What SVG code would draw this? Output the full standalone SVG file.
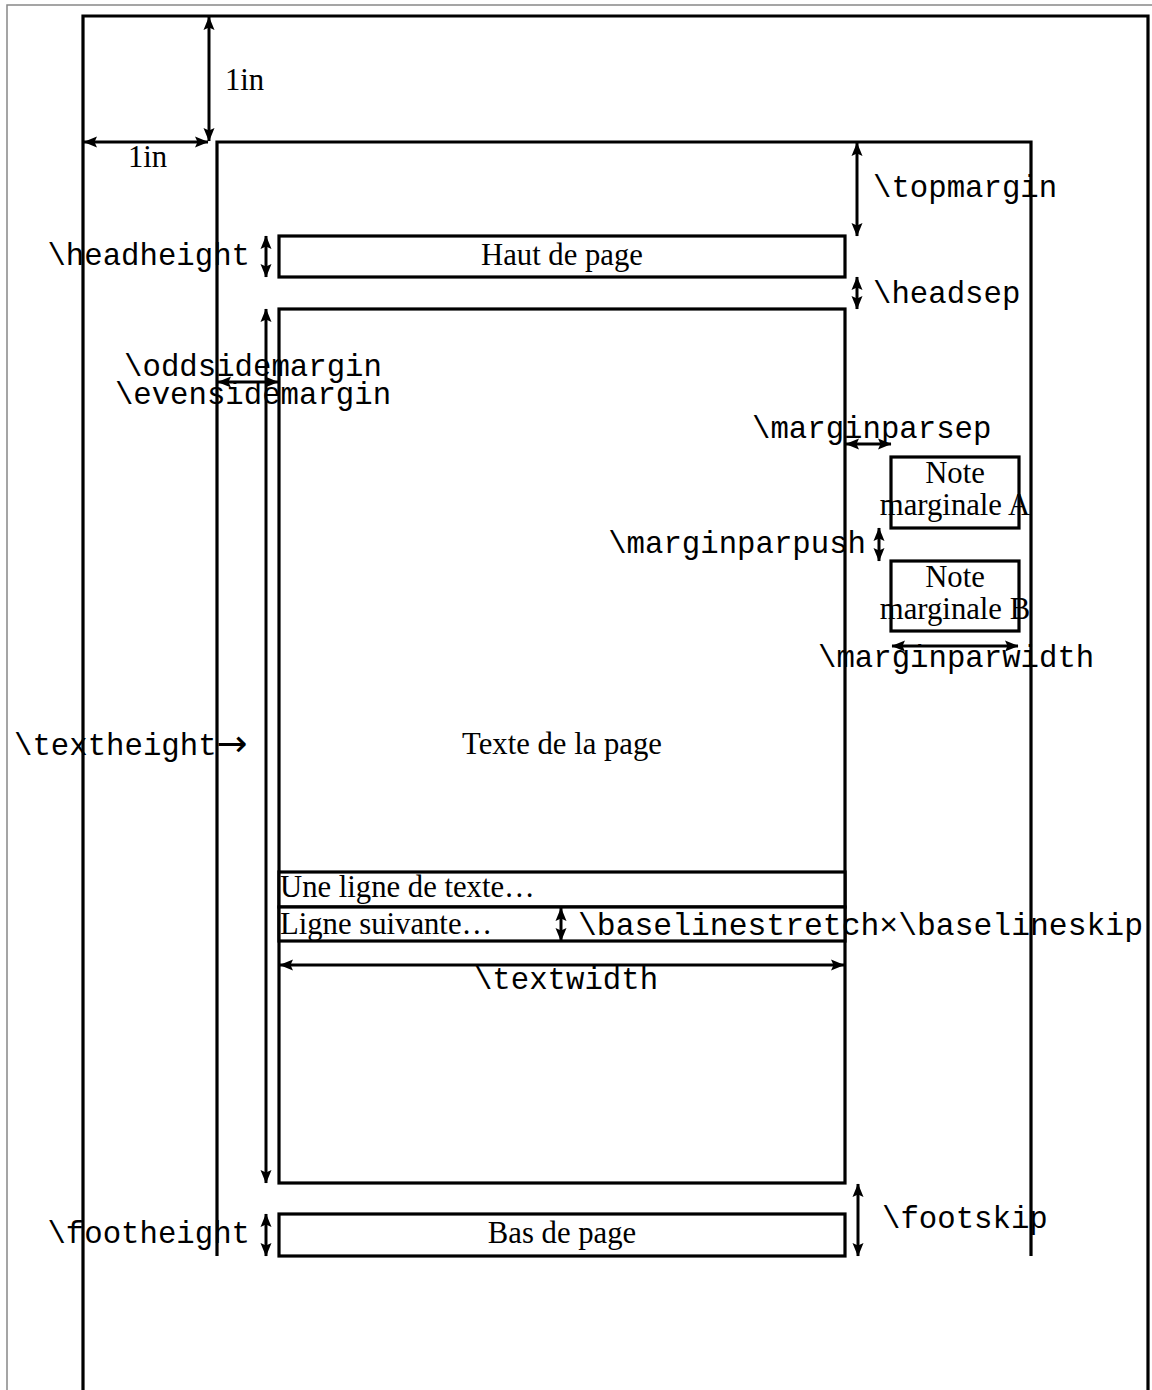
<svg xmlns="http://www.w3.org/2000/svg" width="1152" height="1390" viewBox="0 0 1152 1390">
<style>
.frame{fill:none;stroke:#000;stroke-width:3.2}
.box{fill:#fff;stroke:#000;stroke-width:3.2}
.grey{fill:none;stroke:#888;stroke-width:1.5}
.arr{stroke:#000;stroke-width:3;fill:none;marker-start:url(#ah);marker-end:url(#ah)}
.rm{font-family:"Liberation Serif","Times New Roman",serif;font-size:30.7px;fill:#000}
.tt{font-family:"Liberation Mono","Courier New",monospace;font-size:30.7px;fill:#000}
.sym{font-family:"DejaVu Sans",sans-serif;font-size:37px}
.mid{text-anchor:middle}
.end{text-anchor:end}
</style>
<defs>
<marker id="ah" markerUnits="userSpaceOnUse" markerWidth="14" markerHeight="12" refX="13" refY="6" orient="auto-start-reverse" viewBox="0 0 14 12">
<path d="M0,0.5 L13.5,6 L0,11.5 L2.5,6 z" fill="#000"/>
</marker>
</defs>
<rect x="0" y="0" width="1152" height="1390" fill="#fff"/>
<g id="border">
<polyline class="grey" points="7,1395 7,5 1152,5"/>
</g>
<g id="page">
<polyline class="frame" points="83,1395 83,16 1148,16 1148,1395"/>
</g>
<g id="body-frame">
<polyline class="frame" points="217,1256 217,142 1031,142 1031,1256"/>
</g>
<g id="header">
<rect class="box" x="279" y="236" width="566" height="41"/>
<text class="rm mid" x="562" y="265">Haut de page</text>
</g>
<g id="body">
<rect class="box" x="279" y="309" width="566" height="874"/>
<text class="rm mid" x="562" y="754">Texte de la page</text>
</g>
<g id="line1">
<rect class="box" x="279" y="872" width="566" height="35"/>
<text class="rm" x="280" y="897">Une ligne de texte…</text>
</g>
<g id="line2">
<rect class="box" x="279" y="907" width="566" height="34"/>
<text class="rm" x="280" y="934">Ligne suivante…</text>
</g>
<g id="noteA">
<rect class="box" x="891" y="457" width="128" height="71"/>
<text class="rm mid" x="955" y="483">Note</text>
<text class="rm mid" x="955" y="515">marginale A</text>
</g>
<g id="noteB">
<rect class="box" x="891" y="561" width="128" height="70"/>
<text class="rm mid" x="955" y="587">Note</text>
<text class="rm mid" x="955" y="619">marginale B</text>
</g>
<g id="footer">
<rect class="box" x="279" y="1214" width="566" height="42"/>
<text class="rm mid" x="562" y="1243">Bas de page</text>
</g>
<g id="connectors">
<line class="arr" x1="209" y1="17" x2="209" y2="141"/>
<line class="arr" x1="84" y1="142" x2="208" y2="142"/>
<line class="arr" x1="857" y1="143" x2="857" y2="236"/>
<line class="arr" x1="266" y1="236" x2="266" y2="277"/>
<line class="arr" x1="857" y1="277" x2="857" y2="309"/>
<line class="arr" x1="266" y1="309" x2="266" y2="1183"/>
<line class="arr" x1="218" y1="382" x2="278" y2="382"/>
<line class="arr" x1="846" y1="444" x2="891" y2="444"/>
<line class="arr" x1="879" y1="528" x2="879" y2="561"/>
<line class="arr" x1="892" y1="646" x2="1018" y2="646"/>
<line class="arr" x1="561" y1="908" x2="561" y2="941"/>
<line class="arr" x1="280" y1="965" x2="844" y2="965"/>
<line class="arr" x1="858" y1="1184" x2="858" y2="1256"/>
<line class="arr" x1="266" y1="1214" x2="266" y2="1256"/>
</g>
<g id="labels">
<text class="rm" x="225" y="90">1in</text>
<text class="rm" x="128" y="167">1in</text>
<text class="tt" x="873" y="197">\topmargin</text>
<text class="tt end" x="250" y="265">\headheight</text>
<text class="tt" x="873" y="303">\headsep</text>
<text class="tt mid" x="253" y="376">\oddsidemargin</text>
<text class="tt mid" x="253" y="404">\evensidemargin</text>
<text class="tt" x="752" y="438">\marginparsep</text>
<text class="tt end" x="866" y="553">\marginparpush</text>
<text class="tt" x="818" y="667">\marginparwidth</text>
<text class="tt" x="14" y="755">\textheight<tspan class="sym" dy="1">→</tspan></text>
<text class="tt" x="578" y="935" textLength="565" lengthAdjust="spacingAndGlyphs">\baselinestretch×\baselineskip</text>
<text class="tt mid" x="566" y="989">\textwidth</text>
<text class="tt" x="882" y="1228">\footskip</text>
<text class="tt end" x="250" y="1243">\footheight</text>
</g>
</svg>
